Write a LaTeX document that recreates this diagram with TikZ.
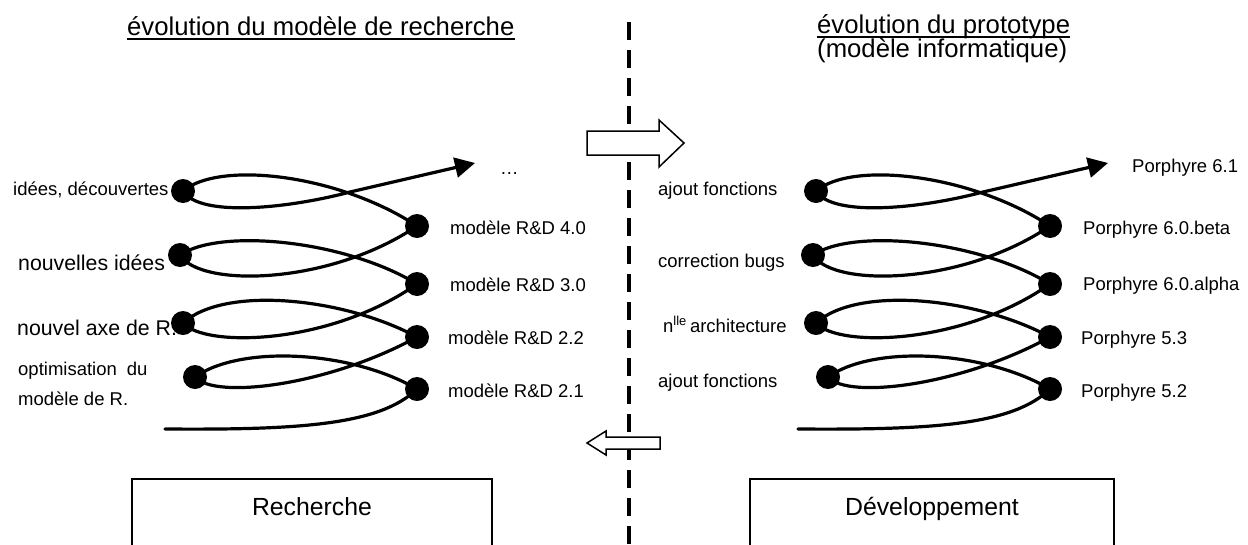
\documentclass[tikz,border=0pt]{standalone}
\usepackage{fontspec}
\setmainfont{Liberation Sans}
\usetikzlibrary{arrows.meta}
\tikzset{
  lbl/.style={anchor=base west, inner sep=0pt, font=\fontsize{18.5}{20}\selectfont},
  biglbl/.style={lbl, font=\fontsize{21.3}{23}\selectfont},
  ttl/.style={anchor=base west, inner sep=0pt, font=\fontsize{25.7}{28}\selectfont},
  dot/.style={circle, fill=black, inner sep=0pt, minimum size=24pt},
  spiral/.style={line width=3.2pt, line cap=round, line join=round, -{Triangle[length=20pt,width=20pt]}},
  blockarrow/.style={draw, fill=white, line width=1.5pt, line join=miter},
  bigbox/.style={draw, line width=1.6pt, inner xsep=0pt, inner ysep=18pt, text height=18pt, text depth=100pt, font=\fontsize{24.8}{26}\selectfont, anchor=base},
  sepline/.style={line width=3.6pt, dash pattern=on 18pt off 10pt},
  uline/.style={line width=2.5pt},
}
\newcommand\drawspiral[1]{%
  \node[dot] (#1l1) at (183,191) {};
  \node[dot] (#1l2) at (180,255) {};
  \node[dot] (#1l3) at (183,323) {};
  \node[dot] (#1l4) at (195,377) {};
  \node[dot] (#1r1) at (417,226) {};
  \node[dot] (#1r2) at (417,284) {};
  \node[dot] (#1r3) at (417,337) {};
  \node[dot] (#1r4) at (417,389) {};
  \coordinate (#1s) at (165,429);
  \coordinate (#1t) at (475,163);
  \draw[spiral] (#1s) .. controls (300,430) and (380,425) .. (#1r4.center)
    .. controls (350,350) and (240,345) .. (#1l4.center)
    .. controls (215,400) and (330,385) .. (#1r3.center)
    .. controls (345,298) and (225,285) .. (#1l3.center)
    .. controls (205,348) and (330,345) .. (#1r2.center)
    .. controls (345,240) and (220,228) .. (#1l2.center)
    .. controls (200,288) and (330,285) .. (#1r1.center)
    .. controls (340,175) and (220,160) .. (#1l1.center)
    .. controls (200,218) and (290,208) .. (350,192) -- (#1t);
}
\begin{document}
\begin{tikzpicture}[x=1pt,y=-1pt]
\useasboundingbox (0,0) rectangle (1248,544);
\clip (0,0) rectangle (1248,544);
\fill[white] (0,0) rectangle (1248,544);
% separator
\coordinate (septop) at (629,22);
\coordinate (sepbot) at (629,560);
\draw[sepline] (septop) -- (sepbot);
% block arrows
\draw[blockarrow] (587,131) -- (659,131) -- (659,120) -- (684,143) -- (659,167) -- (659,155) -- (587,155) -- cycle;
\draw[blockarrow] (660,437) -- (606,437) -- (606,431) -- (587,443) -- (606,455) -- (606,449) -- (660,449) -- cycle;
% titles
\node[ttl] (tL) at (127,35) {évolution du modèle de recherche};
\draw[uline] ([yshift=-4pt]tL.base west) -- ([yshift=-4pt]tL.base east);
\node[ttl] (tR) at (817,33.5) {évolution du prototype};
\draw[uline] ([yshift=-3.5pt]tR.base west) -- ([yshift=-3.5pt]tR.base east);
\node[ttl] (tR2) at (817,57) {(modèle informatique)};
% boxes
\node[bigbox, minimum width=360pt] (rech) at (312,515) {Recherche};
\node[bigbox, minimum width=364pt] (dev) at (932,515) {Développement};
% left labels
\node[lbl] (a1) at (13,195) {idées, découvertes};
\node[biglbl] (a2) at (18,270) {nouvelles idées};
\node[biglbl] (a3) at (17,335) {nouvel axe de R.};
\node[lbl] (a4) at (18,375) {optimisation\hspace{10pt}du};
\node[lbl] (a5) at (18,405) {modèle de R.};
\node[lbl] (b1) at (450,234) {modèle R\&D 4.0};
\node[lbl] (b2) at (450,291) {modèle R\&D 3.0};
\node[lbl] (b3) at (448,344) {modèle R\&D 2.2};
\node[lbl] (b4) at (448,397) {modèle R\&D 2.1};
\node[lbl] (b0) at (500,174) {…};
% right labels
\node[lbl] (c1) at (658,195) {ajout fonctions};
\node[lbl] (c2) at (658,267) {correction bugs};
\node[lbl] (c3) at (663,332) {n\textsuperscript{lle}\,architecture};
\node[lbl] (c4) at (658,387) {ajout fonctions};
\node[lbl] (d0) at (1132,172) {Porphyre 6.1};
\node[lbl] (d1) at (1083,234) {Porphyre 6.0.beta};
\node[lbl] (d2) at (1083,290) {Porphyre 6.0.alpha};
\node[lbl] (d3) at (1081,344) {Porphyre 5.3};
\node[lbl] (d4) at (1081,397) {Porphyre 5.2};
% spirals
\begin{scope}
\drawspiral{L}
\end{scope}
\begin{scope}[xshift=633pt]
\drawspiral{R}
\end{scope}
\end{tikzpicture}
\end{document}
